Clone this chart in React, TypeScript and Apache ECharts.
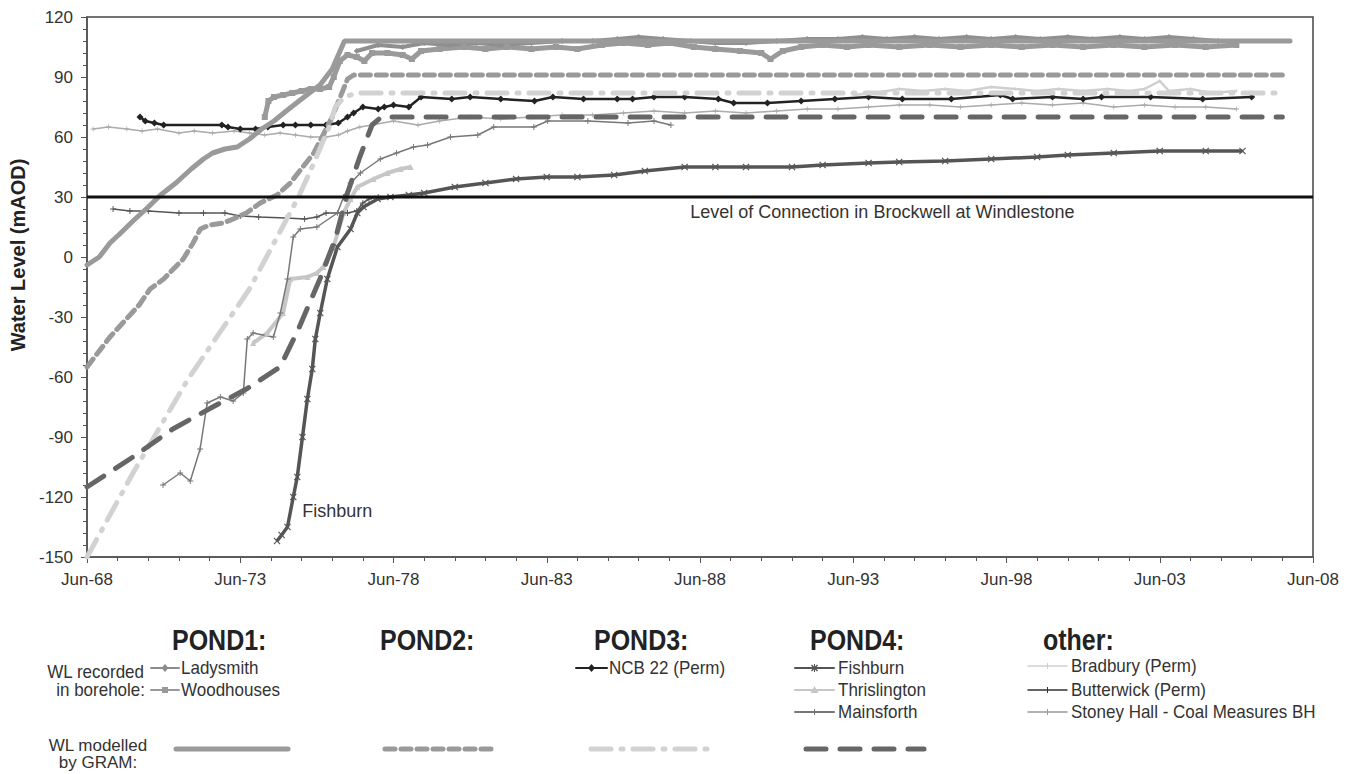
import React, { useEffect, useRef } from "react";
import * as echarts from "echarts";

type Pt = [number, number];

// ---------- axes ----------
const AXIS_START = 1968.5; // Jun-68
const xTickLabels = ["Jun-68", "Jun-73", "Jun-78", "Jun-83", "Jun-88", "Jun-93", "Jun-98", "Jun-03", "Jun-08"];
const yMin = -150;
const yMax = 120;
const yStep = 30;
const connectionLevel = 30;

// ---------- WL modelled by GRAM (decimal year, mAOD) ----------
const gramPond1: Pt[] = [
  [1968.5, -4], [1968.9, 0], [1969.25, 7], [1969.6, 12], [1970.0, 18], [1970.5, 25], [1970.9, 31],
  [1971.4, 37], [1971.9, 44], [1972.3, 49], [1972.6, 52], [1973.0, 54], [1973.4, 55], [1973.8, 59],
  [1974.2, 64], [1974.6, 68], [1975.0, 73], [1975.5, 79], [1976.1, 86], [1976.5, 94], [1976.9, 108],
  [2007.75, 108],
];
const gramPond2: Pt[] = [
  [1968.5, -55], [1969.25, -40], [1970.2, -24], [1970.56, -16], [1971.0, -11], [1971.64, -1],
  [1971.96, 7], [1972.2, 14], [1972.5, 16], [1972.94, 17], [1973.27, 19], [1973.7, 22], [1974.15, 27],
  [1974.7, 31], [1975.13, 37], [1975.9, 52], [1976.5, 70], [1977.0, 89], [1977.2, 91], [2007.6, 91],
];
const gramPond3: Pt[] = [
  [1968.5, -150], [1970.0, -108], [1971.8, -61], [1973.8, -16], [1974.6, 7], [1975.4, 30],
  [1975.9, 47], [1976.4, 65], [1976.6, 75], [1976.9, 80], [1977.3, 82], [2007.5, 82],
];
const gramPond4: Pt[] = [
  [1968.5, -115], [1970.0, -100], [1971.3, -86], [1972.6, -75], [1973.7, -66], [1974.8, -55],
  [1975.4, -36], [1976.1, -11], [1976.6, 9], [1977.0, 32], [1977.4, 50], [1977.8, 66], [1978.1, 70],
  [2007.5, 70],
];

// ---------- WL recorded in borehole ----------
const ladysmith: Pt[] = [
  [1977.3, 103], [1978.0, 106], [1978.8, 105], [1979.5, 107], [1980.3, 106], [1981.2, 107], [1982.0, 106],
  [1983.0, 107], [1984.0, 108], [1985.0, 108], [1985.8, 109], [1986.5, 110], [1987.3, 109], [1988.2, 108],
  [1989.0, 107], [1990.0, 107], [1991.0, 108], [1992.0, 109], [1993.0, 109], [1993.8, 110], [1994.6, 109],
  [1995.5, 110], [1996.3, 109], [1997.2, 110], [1998.0, 109], [1998.8, 110], [1999.6, 109], [2000.5, 110],
  [2001.3, 109], [2002.2, 110], [2003.0, 109], [2003.8, 110], [2004.6, 109], [2005.4, 108],
];
const woodhouses: Pt[] = [
  [1974.3, 70], [1974.42, 78], [1974.6, 80], [1974.9, 81], [1975.2, 82], [1975.5, 83], [1975.8, 84],
  [1976.1, 84], [1976.4, 85], [1976.55, 90], [1976.75, 98], [1977.0, 101], [1977.3, 100], [1977.55, 98],
  [1977.8, 102], [1978.3, 102], [1978.8, 101], [1979.1, 99], [1979.4, 103], [1980.0, 104], [1980.8, 105],
  [1981.5, 104], [1982.2, 105], [1983.0, 104], [1983.8, 105], [1984.5, 104], [1985.3, 106], [1986.0, 107],
  [1986.8, 106], [1987.5, 107], [1988.3, 105], [1989.0, 104], [1989.8, 103], [1990.5, 102], [1990.8, 99],
  [1991.2, 103], [1991.8, 105], [1992.5, 106], [1993.3, 105], [1994.0, 106], [1995.0, 105], [1996.0, 106],
  [1997.0, 105], [1998.0, 106], [1999.0, 105], [2000.0, 106], [2001.0, 105], [2002.0, 106], [2003.0, 105],
  [2004.0, 106], [2005.0, 105], [2006.0, 106],
];
const ncb22: Pt[] = [
  [1970.23, 70], [1970.4, 68], [1970.7, 67], [1971.0, 66], [1972.9, 66], [1973.1, 65], [1973.5, 64],
  [1974.0, 64], [1974.4, 65], [1974.9, 66], [1975.3, 66], [1975.8, 66], [1976.3, 66], [1976.7, 67],
  [1977.0, 70], [1977.2, 72], [1977.5, 75], [1978.0, 74], [1978.2, 75], [1978.5, 76], [1979.0, 75],
  [1979.4, 80], [1980.4, 79], [1981.0, 80], [1982.0, 79], [1983.1, 78], [1983.7, 80], [1984.7, 79],
  [1985.8, 79], [1986.3, 79], [1987.0, 80], [1988.0, 80], [1989.1, 79], [1989.6, 77], [1990.7, 77],
  [1991.8, 78], [1992.9, 79], [1994.0, 80], [1995.1, 79], [1996.7, 79], [1998.3, 81], [1998.7, 79],
  [2000.0, 80], [2001.0, 79], [2001.6, 80], [2003.2, 80], [2004.9, 79], [2006.5, 80],
];
const fishburn: Pt[] = [
  [1974.7, -142], [1974.85, -139], [1975.04, -135], [1975.23, -120], [1975.36, -110], [1975.53, -90],
  [1975.69, -71], [1975.85, -56], [1975.95, -41], [1976.11, -28], [1976.34, -11], [1976.67, 5],
  [1977.1, 14], [1977.32, 22], [1977.52, 25], [1977.98, 29], [1978.4, 30], [1979.0, 31], [1979.5, 32],
  [1980.5, 35], [1981.5, 37], [1982.5, 39], [1983.5, 40], [1984.5, 40], [1985.7, 41], [1986.7, 43],
  [1988.0, 45], [1989.0, 45], [1990.0, 45], [1991.5, 45], [1992.5, 46], [1994.0, 47], [1995.0, 47.5],
  [1996.5, 48], [1998.0, 49], [1999.5, 50], [2000.5, 51], [2002.0, 52], [2003.5, 53], [2005.0, 53],
  [2006.2, 53],
];
const thrislington: Pt[] = [
  [1973.92, -43], [1974.38, -38], [1974.9, -28], [1975.13, -11], [1975.69, -10], [1976.0, -8],
  [1976.21, -5], [1976.54, 5], [1976.87, 22], [1977.1, 29], [1977.32, 35], [1977.85, 39], [1978.3, 42],
  [1978.73, 44], [1979.06, 45],
];
const mainsforth: Pt[] = [
  [1970.98, -114], [1971.54, -108], [1971.87, -112], [1972.19, -96], [1972.42, -73], [1972.85, -70],
  [1973.27, -72], [1973.6, -68], [1973.73, -41], [1973.92, -38], [1974.58, -40], [1974.81, -28],
  [1975.04, -11], [1975.23, 10], [1975.46, 14], [1976.0, 15], [1976.67, 22], [1976.87, 30], [1977.1, 37],
  [1977.42, 42], [1978.07, 49], [1978.6, 52], [1979.15, 55], [1979.61, 56], [1980.36, 60], [1981.25, 61],
  [1981.77, 65], [1983.08, 65], [1983.53, 68], [1984.84, 68], [1986.15, 67], [1987.0, 68], [1987.55, 66],
];
const bradbury: Pt[] = [
  [1993.5, 81], [1994.2, 82], [1995.0, 84], [1995.8, 83], [1996.5, 84], [1997.2, 83], [1998.0, 85],
  [1998.8, 84], [1999.5, 83], [2000.2, 84], [2001.0, 83], [2001.8, 84], [2002.5, 83], [2003.0, 84],
  [2003.5, 88], [2003.8, 83], [2004.5, 84], [2005.2, 82], [2006.0, 83],
];
const butterwick: Pt[] = [
  [1969.35, 24], [1969.9, 23], [1970.5, 23], [1971.5, 22], [1972.3, 22], [1973.0, 22], [1973.5, 20.5],
  [1974.1, 20], [1975.0, 19.5], [1975.6, 19], [1976.0, 20], [1976.3, 22], [1977.0, 22], [1977.3, 23],
  [1977.5, 27], [1977.7, 29], [1978.0, 30],
];
const stoneyHall: Pt[] = [
  [1968.7, 64], [1969.2, 65], [1969.8, 64], [1970.3, 63], [1970.8, 64], [1971.5, 62], [1972.0, 63],
  [1972.6, 62], [1973.3, 63], [1973.8, 62], [1974.3, 61], [1974.8, 62], [1975.3, 61], [1975.8, 60],
  [1976.3, 60], [1976.7, 61], [1977.0, 63], [1977.4, 65], [1977.8, 66], [1978.5, 68], [1979.3, 66],
  [1980.0, 68], [1981.0, 70], [1982.0, 69], [1983.0, 70], [1984.0, 71], [1985.0, 71], [1986.0, 72],
  [1987.0, 73], [1988.0, 72], [1989.0, 73], [1990.0, 72], [1991.0, 73], [1992.0, 74], [1993.0, 74],
  [1994.0, 75], [1995.0, 76], [1996.0, 76], [1997.0, 75], [1998.0, 76], [1999.0, 77], [2000.0, 76],
  [2001.0, 77], [2002.0, 75], [2003.0, 76], [2004.0, 75], [2005.0, 75], [2006.0, 74],
];

// ---------- styling ----------
const FONT = "'Liberation Sans', Arial, Helvetica, sans-serif";
const X_SYMBOL = "path://M0,1.2L1.2,0L5,3.8L8.8,0L10,1.2L6.2,5L10,8.8L8.8,10L5,6.2L1.2,10L0,8.8L3.8,5Z";
const PLUS_SYMBOL = "path://M4.2,0H5.8V4.2H10V5.8H5.8V10H4.2V5.8H0V4.2H4.2Z";

const shift = (pts: Pt[]) => pts.map(([t, v]) => [t - AXIS_START, v]);

function recordedSeries(name: string, pts: Pt[], color: string, width: number, symbol: string, size: number) {
  return {
    name,
    type: "line",
    data: shift(pts),
    showSymbol: true,
    showAllSymbol: true,
    symbol,
    symbolSize: size,
    itemStyle: { color },
    lineStyle: { color, width },
    z: 2,
  };
}

function gramSeries(name: string, pts: Pt[], color: string, dash: any) {
  return {
    name,
    type: "line",
    data: shift(pts),
    showSymbol: false,
    lineStyle: { color, width: 5, type: dash, cap: "round" },
    z: 3,
  };
}

// ---------- legend (drawn as graphics) ----------
function hLine(x1: number, x2: number, y: number, stroke: string, lineWidth: number, lineDash?: number[]) {
  return {
    type: "line",
    silent: true,
    shape: { x1, y1: y, x2, y2: y },
    style: { stroke, lineWidth, lineDash, lineCap: "round" },
  };
}
function label(text: string, x: number, y: number, size = 17, align = "left", weight = "normal", color = "#333", scaleY = 1.08) {
  return {
    type: "text",
    silent: true,
    x,
    y,
    scaleY,
    style: {
      text,
      fill: color,
      font: `${weight} ${size}px ${FONT}`,
      align,
      textAlign: align,
      verticalAlign: "middle",
      textVerticalAlign: "middle",
    },
  };
}
function marker(kind: string, cx: number, cy: number, color: string): any[] {
  if (kind === "diamond")
    return [{ type: "polygon", silent: true, shape: { points: [[cx, cy - 4], [cx + 3.5, cy], [cx, cy + 4], [cx - 3.5, cy]] }, style: { fill: color } }];
  if (kind === "square")
    return [{ type: "rect", silent: true, shape: { x: cx - 3, y: cy - 3, width: 6, height: 6 }, style: { fill: color } }];
  if (kind === "triangle")
    return [{ type: "polygon", silent: true, shape: { points: [[cx, cy - 4], [cx + 4, cy + 3], [cx - 4, cy + 3]] }, style: { fill: color } }];
  if (kind === "x")
    return [
      { type: "line", silent: true, shape: { x1: cx - 3, y1: cy - 3, x2: cx + 3, y2: cy + 3 }, style: { stroke: color, lineWidth: 1.5 } },
      { type: "line", silent: true, shape: { x1: cx - 3, y1: cy + 3, x2: cx + 3, y2: cy - 3 }, style: { stroke: color, lineWidth: 1.5 } },
      { type: "line", silent: true, shape: { x1: cx, y1: cy - 4, x2: cx, y2: cy + 4 }, style: { stroke: color, lineWidth: 1 } },
    ];
  // plus
  return [{ type: "line", silent: true, shape: { x1: cx, y1: cy - 3, x2: cx, y2: cy + 3 }, style: { stroke: color, lineWidth: 1 } }];
}
function entry(x1: number, x2: number, y: number, color: string, width: number, kind: string, text: string, textX: number) {
  return [hLine(x1, x2, y, color, width), ...marker(kind, (x1 + x2) / 2, y, color), label(text, textX, y)];
}

const legendGraphics: any[] = [
  // group headers
  label("POND1:", 172, 640, 25, "left", "bold", "#222", 1.2),
  label("POND2:", 380, 640, 25, "left", "bold", "#222", 1.2),
  label("POND3:", 594, 640, 25, "left", "bold", "#222", 1.2),
  label("POND4:", 810, 640, 25, "left", "bold", "#222", 1.2),
  label("other:", 1043, 640, 25, "left", "bold", "#222", 1.2),
  // row captions
  label("WL recorded", 144, 672, 17, "right"),
  label("in borehole:", 145, 690, 17, "right"),
  label("WL modelled", 98, 745, 17, "center", "normal", "#333", 1),
  label("by GRAM:", 98, 762, 17, "center", "normal", "#333", 1),
  // recorded entries
  ...entry(151, 179, 668, "#8c8c8c", 2, "diamond", "Ladysmith", 181),
  ...entry(151, 179, 690, "#999999", 2, "square", "Woodhouses", 181),
  ...entry(576, 607, 668, "#222222", 2, "diamond", "NCB 22 (Perm)", 609),
  ...entry(795, 834, 668, "#555555", 2, "x", "Fishburn", 838),
  ...entry(795, 834, 690, "#c6c6c6", 2, "triangle", "Thrislington", 838),
  ...entry(795, 834, 712, "#777777", 2, "plus", "Mainsforth", 838),
  ...entry(1028, 1067, 666, "#cfcfcf", 1.5, "plus", "Bradbury (Perm)", 1071),
  ...entry(1028, 1067, 690, "#333333", 1.5, "plus", "Butterwick (Perm)", 1071),
  ...entry(1028, 1067, 712, "#999999", 1.5, "plus", "Stoney Hall - Coal Measures BH", 1071),
  // modelled entries
  hLine(176, 288, 749, "#9a9a9a", 5),
  hLine(385, 494, 749, "#9a9a9a", 5, [10, 6]),
  hLine(591, 716, 749, "#d2d2d2", 5, [20, 10, 2, 10]),
  hLine(806, 924, 749, "#666666", 5, [20, 14]),
  // y axis title
  {
    type: "text",
    silent: true,
    x: 18,
    y: 255,
    rotation: Math.PI / 2,
    style: {
      text: "Water Level (mAOD)",
      fill: "#222",
      font: `bold 20px ${FONT}`,
      align: "center",
      textAlign: "center",
      verticalAlign: "middle",
      textVerticalAlign: "middle",
    },
  },
];

const option: any = {
  animation: false,
  backgroundColor: "#ffffff",
  grid: { left: 87, right: 37, top: 17, bottom: 217, show: true, borderColor: "#444", borderWidth: 1.5, backgroundColor: "transparent" },
  xAxis: {
    type: "value",
    min: 0,
    max: (xTickLabels.length - 1) * 5,
    interval: 5,
    axisLine: { onZero: false, lineStyle: { color: "#555", width: 1.5 } },
    axisTick: { show: true, length: 6, lineStyle: { color: "#555" } },
    minorTick: { show: true, splitNumber: 5, length: 4, lineStyle: { color: "#555" } },
    splitLine: { show: false },
    axisLabel: {
      margin: 14,
      color: "#333",
      fontSize: 17,
      fontFamily: FONT,
      formatter: (v: number) => xTickLabels[Math.round(v / 5)] ?? "",
    },
  },
  yAxis: {
    type: "value",
    min: yMin,
    max: yMax,
    interval: yStep,
    axisLine: { show: true, onZero: false, lineStyle: { color: "#555", width: 1.5 } },
    axisTick: { show: true, length: 6, lineStyle: { color: "#555" } },
    minorTick: { show: true, splitNumber: 5, length: 4, lineStyle: { color: "#555" } },
    splitLine: { show: false },
    axisLabel: { margin: 14, color: "#333", fontSize: 17, fontFamily: FONT },
  },
  graphic: legendGraphics,
  series: [
    recordedSeries("Stoney Hall - Coal Measures BH", stoneyHall, "#ababab", 1.5, PLUS_SYMBOL, 5),
    recordedSeries("Bradbury (Perm)", bradbury, "#cfcfcf", 2.5, PLUS_SYMBOL, 4),
    recordedSeries("Thrislington", thrislington, "#c6c6c6", 4, "triangle", 6),
    recordedSeries("Mainsforth", mainsforth, "#777777", 1.5, PLUS_SYMBOL, 6),
    recordedSeries("Butterwick (Perm)", butterwick, "#555555", 1.5, PLUS_SYMBOL, 6),
    {
      ...recordedSeries("Fishburn", fishburn, "#555555", 3.5, X_SYMBOL, 7),
      markPoint: {
        silent: true,
        symbol: "circle",
        symbolSize: 0,
        data: [
          {
            coord: [1975.46 - AXIS_START, -127],
            label: { show: true, position: "right", distance: 2, formatter: "Fishburn", color: "#333", fontSize: 18, fontFamily: FONT },
          },
        ],
      },
    },
    recordedSeries("Woodhouses", woodhouses, "#9a9a9a", 5, "rect", 6),
    recordedSeries("Ladysmith", ladysmith, "#8f8f8f", 4, "diamond", 6),
    recordedSeries("NCB 22 (Perm)", ncb22, "#222222", 2.5, "diamond", 7),
    gramSeries("GRAM POND1", gramPond1, "#9a9a9a", "solid"),
    gramSeries("GRAM POND2", gramPond2, "#9a9a9a", [10, 6]),
    gramSeries("GRAM POND3", gramPond3, "#d2d2d2", [20, 10, 2, 10]),
    gramSeries("GRAM POND4", gramPond4, "#666666", [20, 14]),
    {
      name: "Level of Connection",
      type: "line",
      data: [
        [0, connectionLevel],
        [(xTickLabels.length - 1) * 5, connectionLevel],
      ],
      showSymbol: false,
      lineStyle: { color: "#111", width: 3 },
      z: 5,
      markPoint: {
        silent: true,
        symbol: "circle",
        symbolSize: 0,
        data: [
          {
            coord: [1994.45 - AXIS_START, connectionLevel],
            label: {
              show: true,
              position: "bottom",
              distance: 6,
              formatter: "Level of Connection in Brockwell at Windlestone",
              color: "#333",
              fontSize: 18,
              fontFamily: FONT,
            },
          },
        ],
      },
    },
  ],
};

export default function App() {
  const ref = useRef<HTMLDivElement>(null);
  useEffect(() => {
    const chart = echarts.init(ref.current as HTMLDivElement, null, { renderer: "svg" });
    chart.setOption(option);
    return () => chart.dispose();
  }, []);
  return (
    <div
      ref={ref}
      style={{ position: "fixed", left: 0, top: 0, width: 1350, height: 774, background: "#fff" }}
    />
  );
}
